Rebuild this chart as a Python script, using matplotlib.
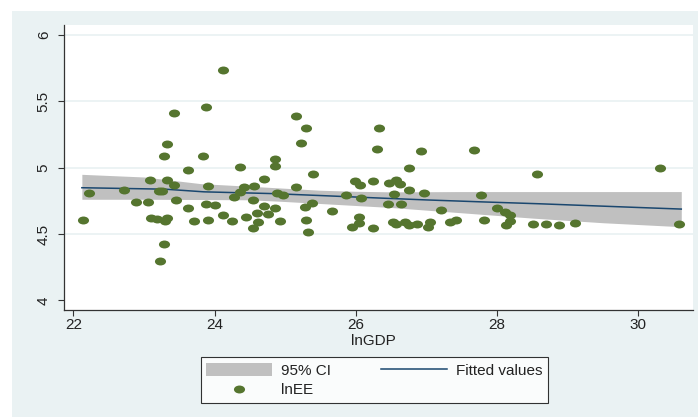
import numpy as np
import matplotlib
matplotlib.use("Agg")
import matplotlib.pyplot as plt
from matplotlib.path import Path
from matplotlib.transforms import Affine2D
from matplotlib.patches import Rectangle

# podaci procitani sa slike

lngdp = [22.13, 22.22, 22.71, 22.89, 23.06, 23.08, 23.10, 23.18, 23.21, 23.25,
         23.28, 23.33, 23.33, 23.30, 23.33, 23.28, 23.23, 23.43, 23.43, 23.46,
         23.62, 23.63, 23.71, 23.83, 23.88, 23.91, 23.88, 23.91, 24.01, 24.12,
         24.12, 24.24, 24.28, 24.36, 24.36, 24.42, 24.45, 24.54, 24.56, 24.60,
         24.61, 24.55, 24.70, 24.70, 24.75, 24.85, 24.86, 24.86, 24.88, 24.93,
         24.97, 25.15, 25.16, 25.22, 25.29, 25.28, 25.29, 25.32, 25.38, 25.40,
         25.67, 25.86, 25.99, 26.06, 26.07, 26.05, 26.05, 25.95, 26.24, 26.25,
         26.30, 26.33, 26.47, 26.45, 26.57, 26.63, 26.54, 26.64, 26.75, 26.75,
         26.93, 26.97, 26.52, 26.57, 26.70, 26.75, 26.87, 27.02, 27.05, 27.20,
         27.34, 27.42, 27.67, 27.78, 27.81, 28.00, 28.12, 28.19, 28.19, 28.13,
         28.56, 28.51, 28.70, 28.88, 29.11, 30.31, 30.58]
lnee = [4.603, 4.810, 4.830, 4.739, 4.741, 4.907, 4.618, 4.611, 4.822, 4.822,
        5.090, 5.176, 4.907, 4.600, 4.618, 4.427, 4.300, 5.412, 4.867, 4.759,
        4.694, 4.983, 4.598, 5.090, 5.455, 4.860, 4.726, 4.603, 4.716, 5.735,
        4.643, 4.600, 4.781, 5.003, 4.819, 4.857, 4.630, 4.759, 4.860, 4.658,
        4.588, 4.543, 4.912, 4.713, 4.651, 5.068, 5.015, 4.694, 4.811, 4.600,
        4.792, 4.857, 5.392, 5.186, 5.299, 4.706, 4.603, 4.513, 4.736, 4.952,
        4.673, 4.792, 4.897, 4.867, 4.771, 4.630, 4.580, 4.555, 4.902, 4.543,
        5.143, 5.299, 4.887, 4.726, 4.907, 4.877, 4.802, 4.726, 4.995, 4.832,
        5.128, 4.811, 4.588, 4.575, 4.588, 4.568, 4.575, 4.555, 4.588, 4.681,
        4.588, 4.606, 5.133, 4.796, 4.606, 4.694, 4.668, 4.641, 4.600, 4.568,
        4.952, 4.575, 4.575, 4.568, 4.585, 4.995, 4.578]

fit_x = [22.12, 23.3, 23.85, 24.8, 25.5, 26.3, 27.0, 27.8, 28.6, 29.3, 30.0, 30.61]
fit_y = [4.849, 4.838, 4.818, 4.805, 4.790, 4.772, 4.757, 4.742, 4.728, 4.714, 4.700, 4.688]

ci_x = [22.12, 23.0, 23.8, 24.5, 25.0, 25.5, 26.0, 26.5, 27.5, 28.5, 29.5, 30.61]
ci_hi = [4.950, 4.930, 4.880, 4.860, 4.845, 4.830, 4.822, 4.818, 4.820, 4.820, 4.820, 4.820]
ci_lo = [4.762, 4.762, 4.760, 4.758, 4.745, 4.730, 4.715, 4.700, 4.660, 4.620, 4.585, 4.555]

y_ticks = [4, 4.5, 5, 5.5, 6]
y_tick_labels = ['4', '4.5', '5', '5.5', '6']
x_ticks = [22, 24, 26, 28, 30]

pozadina = '#eaf2f3'
zelena = '#55752f'
plava = '#1a476f'
siva = '#c0c0c0'

plt.rcParams['font.family'] = ['Liberation Sans', 'DejaVu Sans']

fig = plt.figure(figsize=(6.98, 4.17), dpi=100)
fig.patch.set_facecolor('white')
fig.patches.append(Rectangle((12 / 698, 0), 1, 1 - 11 / 417, transform=fig.transFigure,
                             facecolor=pozadina, edgecolor='none', zorder=-10))

ax = fig.add_axes([64 / 698, 107 / 417, 628.5 / 698, 285 / 417])
ax.set_facecolor('white')

# elipsa kao marker (Stata tacke su rastegnute)
elipsa = Path.unit_circle().transformed(Affine2D().scale(1.4, 1.0))

ax.fill_between(ci_x, ci_lo, ci_hi, color=siva, linewidth=0, label='95% CI', zorder=2)
ax.plot(fit_x, fit_y, color=plava, linewidth=1.1, label='Fitted values', zorder=3)
ax.scatter(lngdp, lnee, s=64, marker=elipsa, color=zelena, linewidths=0, label='lnEE', zorder=4)

for y in [4.5, 5, 5.5, 6]:
    ax.axhline(y, color=pozadina, linewidth=1.3, zorder=1)

ax.set_xlim(21.867, 30.769)
ax.set_ylim(3.927, 6.076)
ax.set_xticks(x_ticks)
ax.set_yticks(y_ticks)
ax.set_yticklabels(y_tick_labels)

for s in ['top', 'right']:
    ax.spines[s].set_visible(False)
for s in ['left', 'bottom']:
    ax.spines[s].set_color('#333333')
    ax.spines[s].set_linewidth(0.9)

ax.tick_params(axis='both', direction='out', length=4, width=0.8, color='#333333',
               labelsize=11, labelcolor='#222222')
ax.tick_params(axis='x', pad=1.5)
ax.tick_params(axis='y', pad=5.5)
plt.setp(ax.get_yticklabels(), rotation=90, va='center')

ax.set_xlabel('lnGDP', fontsize=11, color='#222222')
ax.xaxis.set_label_coords(0.493, -0.083)

handles, labels = ax.get_legend_handles_labels()
red = [labels.index('95% CI'), labels.index('lnEE'), labels.index('Fitted values')]
leg = fig.legend([handles[i] for i in red], [labels[i] for i in red],
                 ncol=2, loc='center', mode='expand',
                 bbox_to_anchor=(200.7 / 698, 15 / 417, 347.3 / 698, 44 / 417),
                 fontsize=11, frameon=True, fancybox=False, borderaxespad=0,
                 handlelength=4.3, handleheight=1.0, handletextpad=0.6,
                 labelspacing=0.3, borderpad=0.35, columnspacing=2.0)
leg.get_frame().set_edgecolor('black')
leg.get_frame().set_linewidth(0.8)
leg.get_frame().set_facecolor('white')
for t in leg.get_texts():
    t.set_color('#222222')

fig.savefig('out.png', dpi=100, facecolor=fig.get_facecolor())
